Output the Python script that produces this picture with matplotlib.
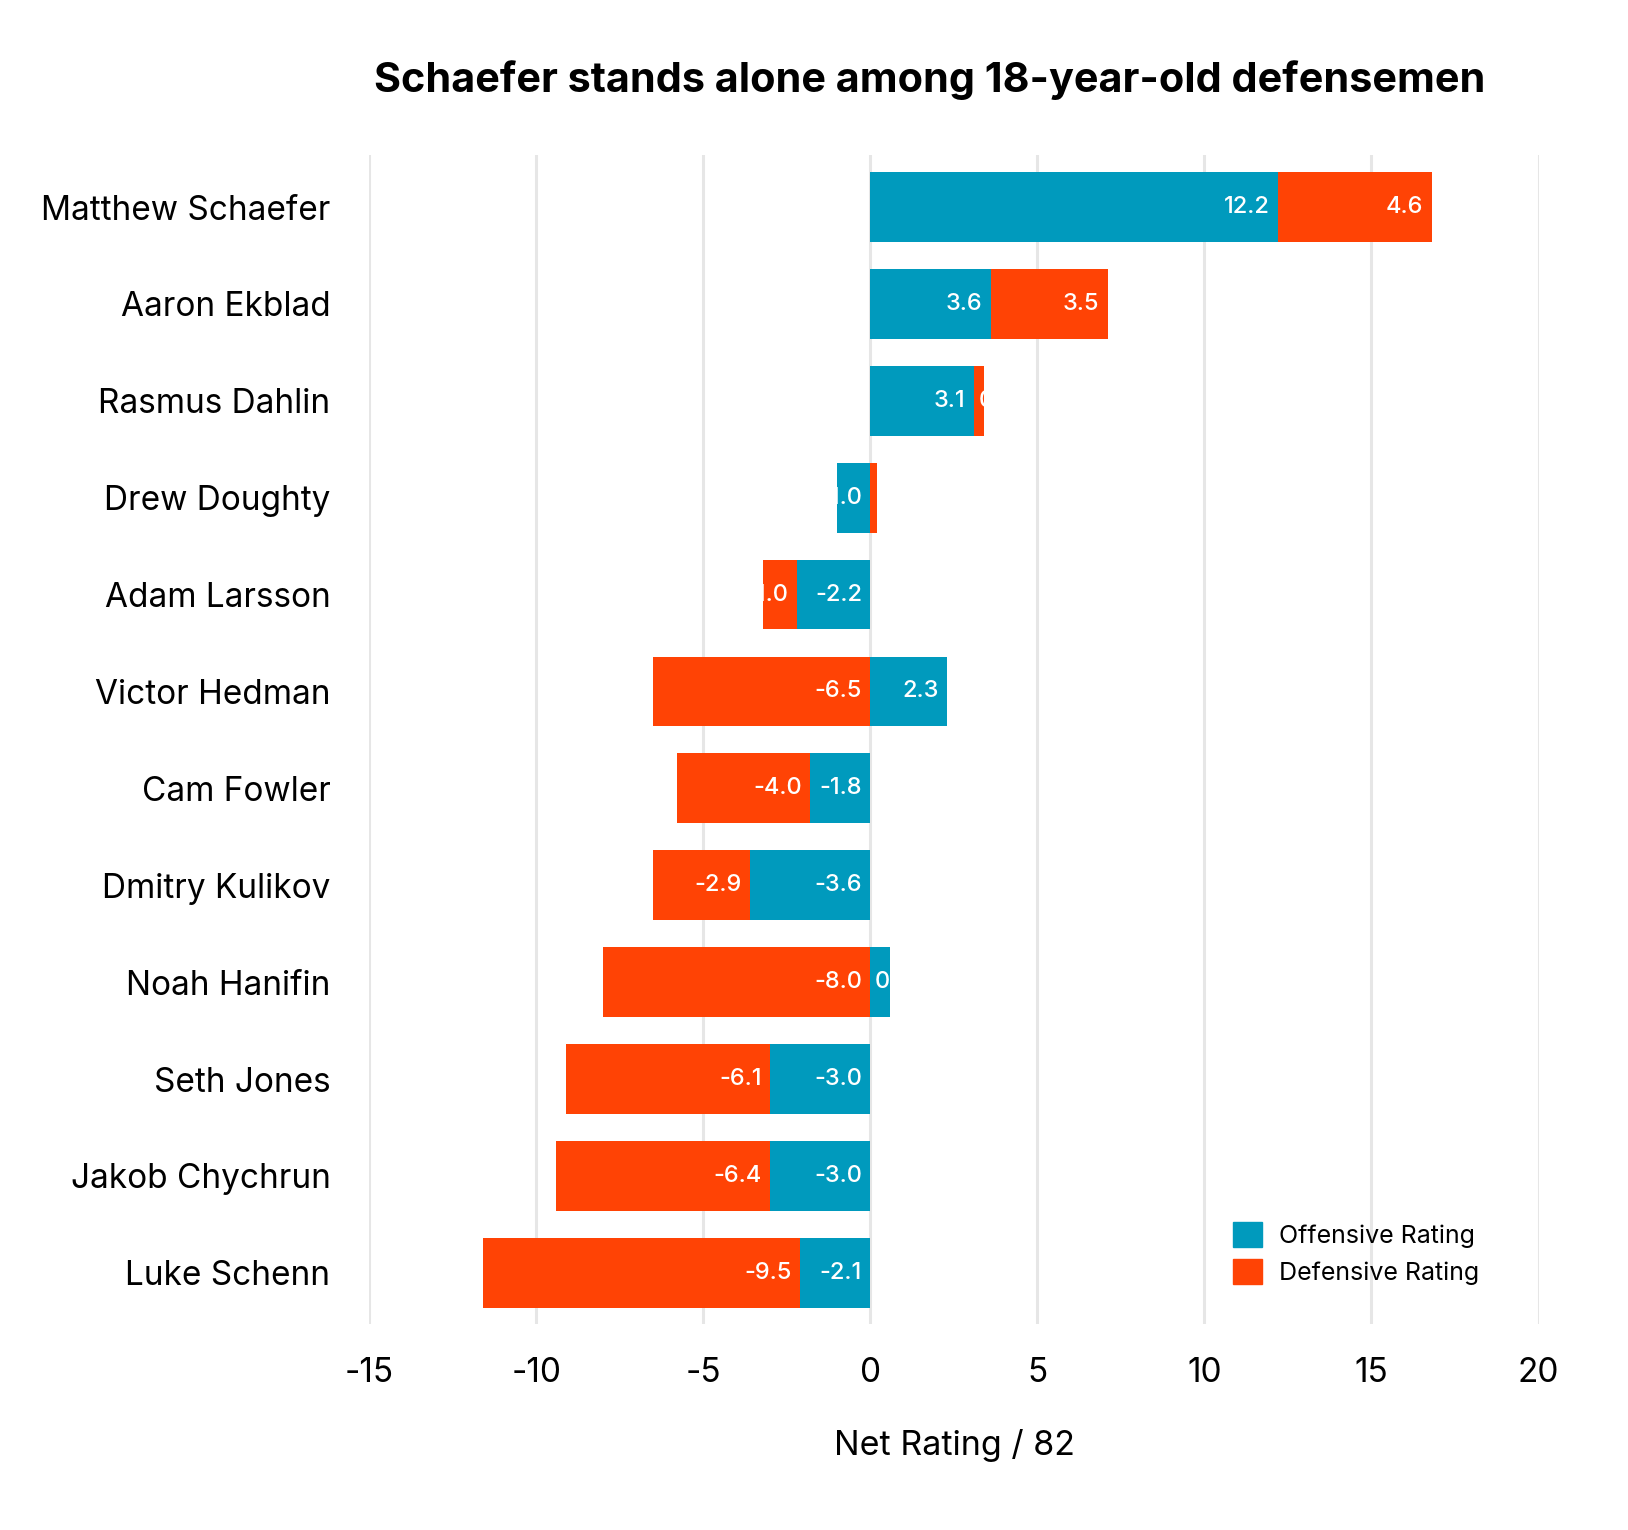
import matplotlib.pyplot as plt
from matplotlib.patches import Patch
import numpy as np

plt.rcParams['font.family'] = ['Inter', 'DejaVu Sans']

# Data
players = ["Matthew Schaefer", "Aaron Ekblad", "Rasmus Dahlin", "Drew Doughty",
           "Adam Larsson", "Victor Hedman", "Cam Fowler", "Dmitry Kulikov",
           "Noah Hanifin", "Seth Jones", "Jakob Chychrun", "Luke Schenn"]
offensive = [12.2, 3.6, 3.1, -1.0, -2.2, 2.3, -1.8, -3.6, 0.6, -3.0, -3.0, -2.1]
defensive = [4.6, 3.5, 0.3, 0.2, -1.0, -6.5, -4.0, -2.9, -8.0, -6.1, -6.4, -9.5]
x_ticks = [-15, -10, -5, 0, 5, 10, 15, 20]

blue = '#009abd'
red = '#ff4305'

W, H = 1628, 1530
fig = plt.figure(figsize=(W / 100, H / 100), dpi=100)
ax = fig.add_axes([369.3 / W, 1 - 1323.7 / H, (1538.5 - 369.3) / W, (1323.7 - 155) / H])

y = np.arange(len(players))
off = np.array(offensive)
dfn = np.array(defensive)

# diverging stack: positives go right from 0, negatives go left
off_left = np.where(off >= 0, 0, off)
pos_cum = np.where(off > 0, off, 0)
neg_cum = np.where(off < 0, off, 0)
def_left = np.where(dfn >= 0, pos_cum, neg_cum + dfn)

bh = 0.72
bars_off = ax.barh(y, np.abs(off), left=off_left, height=bh, color=blue, zorder=3)
bars_def = ax.barh(y, np.abs(dfn), left=def_left, height=bh, color=red, zorder=3)

# labels inside each segment, clipped to the segment
for bars, vals, lefts in [(bars_off, off, off_left), (bars_def, dfn, def_left)]:
    for rect, v, l, yi in zip(bars, vals, lefts, y):
        if abs(v) < 0.25:
            continue  # too narrow, nothing shows
        if abs(v) >= 0.8:
            t = ax.annotate(f"{v:.1f}", (l + abs(v), yi), xytext=(-6, 0),
                            textcoords='offset points', ha='right', va='center',
                            color='white', fontsize=17, fontweight='medium', zorder=4)
        else:
            t = ax.annotate(f"{v:.1f}", (l, yi), xytext=(3.5, 0),
                            textcoords='offset points', ha='left', va='center',
                            color='white', fontsize=17, fontweight='medium', zorder=4)
        t.set_clip_path(rect)

ax.set_xlim(-15, 20)
ax.set_ylim(len(players) - 1 + 0.525, -0.537)
ax.set_xticks(x_ticks)
ax.set_xticklabels([str(v) for v in x_ticks])
ax.set_yticks(y)
ax.set_yticklabels(players)
ax.tick_params(axis='both', length=0)
ax.tick_params(axis='y', pad=28, labelsize=24)
ax.tick_params(axis='x', pad=24, labelsize=24)
ax.grid(axis='x', color='#e6e6e6', linewidth=2.2, zorder=0)
ax.set_axisbelow(True)
for s in ax.spines.values():
    s.set_visible(False)

handles = [Patch(color=blue, label='Offensive Rating'),
           Patch(color=red, label='Defensive Rating')]
fig.legend(handles=handles, loc='upper left', bbox_to_anchor=(1233 / W, 1 - 1222 / H),
           frameon=False, fontsize=18, handlelength=1.16, handleheight=1.16,
           handletextpad=0.68, labelspacing=0.44, borderpad=0, borderaxespad=0)

fig.text(954 / W, 1 - 1446 / H, "Net Rating / 82", ha='center', va='center', fontsize=24.5)
fig.text(930 / W, 1 - 80 / H, "Schaefer stands alone among 18-year-old defensemen",
         ha='center', va='center', fontsize=29.8, fontweight='bold')

fig.savefig('out.png', dpi=100)
